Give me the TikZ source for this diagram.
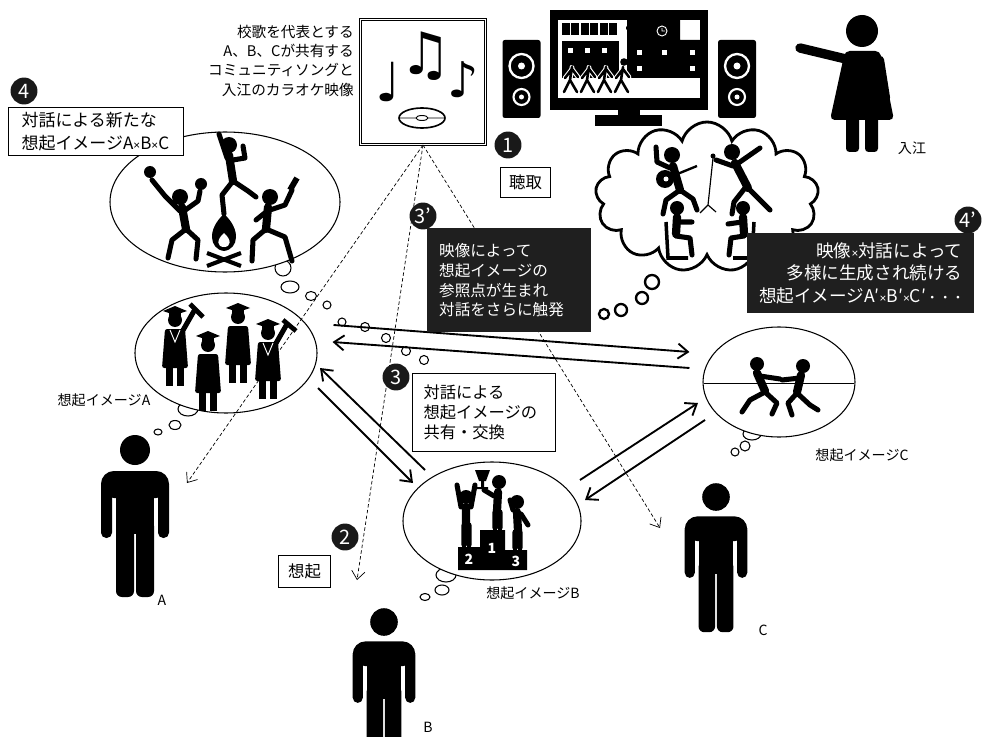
\documentclass[tikz,border=0pt]{standalone}
\usepackage{fontspec}
\setmainfont{Noto Sans CJK JP}
\newfontfamily\notefont{DejaVu Sans}
\newfontfamily\latinfont{Liberation Sans}
\newcommand\tms{{\latinfont\fontsize{10}{10}\selectfont ×}}
\newcommand\trail{{\fontsize{11}{11}\selectfont ・・・}}
\usetikzlibrary{arrows.meta,shapes.geometric,shapes.symbols}

\begin{document}
\begin{tikzpicture}[
  x=0.03cm, y=-0.03cm,
  bubble/.style={draw,ellipse,line width=0.9pt,inner sep=0pt,fill=white},
  puff/.style={draw,line width=0.9pt,fill=white},
  num/.style={circle,fill=black!90,text=white,inner sep=0pt,minimum size=23pt,
    font=\fontsize{17}{17}\selectfont},
  note/.style={draw,line width=0.9pt,fill=white,anchor=north west,inner sep=0pt,align=left},
  darknote/.style={fill=black!88,text=white,anchor=north west,inner sep=0pt},
  talk/.style={line width=1.6pt,-{Straight Barb[length=3mm,width=4.5mm]}},
  cue/.style={densely dashed,line width=0.6pt,-{Straight Barb[length=2.5mm,width=4mm]}},
  limb/.style={line width=4.3pt,line cap=round,line join=round},
  trunk/.style={line width=7pt,line cap=round,line join=round},
  tag/.style={font=\fontsize{12}{14}\selectfont},
  person/.pic={
    \fill (0,0) circle [radius=15];
    \fill[rounded corners=11pt] (-34,21) rectangle (34,48);
    \fill[rounded corners=4.5pt] (-34,30) rectangle (-23,88);
    \fill[rounded corners=4.5pt] (23,30) rectangle (34,88);
    \fill (-19,30) rectangle (19,84);
    \fill[rounded corners=5pt] (-19,70) rectangle (-1,147);
    \fill[rounded corners=5pt] (1,70) rectangle (19,147);
  },
  grad/.pic={
    \fill (0,0) circle [radius=7];
    \fill (-12,-9) -- (0,-14) -- (12,-9) -- (0,-5) -- cycle;
    \fill (-6,-9) rectangle (6,-4);
    \fill[rounded corners=2pt] (-10,9) -- (10,9) -- (13,48) -- (-13,48) -- cycle;
    \fill (-9,46) rectangle (-2,66);
    \fill (2,46) rectangle (9,66);
  },
  walker/.pic={
    \foreach \c/\w in {white/4pt,black/2.2pt}
      \draw[color=\c,line width=\w,line cap=round]
        (0,-6) -- (-2,7) -- (-8,19) (-2,7) -- (5,19) (0,-4) -- (-7,5) (0,-4) -- (6,4);
    \fill (1,-11) circle [radius=3.8];
  }
]
\useasboundingbox (0,0) rectangle (986,737);

% song on the screen
\node[anchor=north east,align=right,inner sep=0pt,font=\fontsize{12.5}{16.4}\selectfont]
  (caption) at (354,25) {校歌を代表とする\\A、B、Cが共有する\\コミュニティソングと\\入江のカラオケ映像};
\node[draw,double,double distance=1.6pt,line width=0.8pt,minimum width=3.75cm,minimum height=3.75cm]
  (song) at (423,82) {};
\node[font=\notefont\fontsize{50}{50}\selectfont] at (426,56) {♫};
\node[font=\notefont\fontsize{46}{46}\selectfont] at (388,82) {♩};
\node[font=\notefont\fontsize{42}{42}\selectfont] at (463,80) {♪};
\draw[line width=1.4pt] (422,118) ellipse [x radius=23, y radius=10];
\draw[line width=0.8pt] (422,118) ellipse [x radius=6, y radius=2.5]
  (400,118) -- (416,118) (428,118) -- (444,118);

% monitor and speakers
\fill (550,10) rectangle (708,110);
\fill (618,108) rectangle (640,116);
\fill (595,115) rectangle (662,126);
\fill[white] (558,20) rectangle (700,98);
\foreach \i in {0,...,5}
  \fill (562+\i*9.4,23) rectangle ++(8,12);
\fill[rounded corners=1pt] (626,26) rectangle (634,30);
\fill (562,41) rectangle (619,78);
\fill (627,20) -- (680,20) -- (680,40) -- (700,40) -- (700,78) -- (627,78) -- cycle;
\draw[white,line width=0.8pt] (662,31) circle [radius=5] (662,28) -- (662,31) -- (665,31);
\foreach \wx/\wy in {568/48,585/48,602/48,637/50,662/50,690/50,637/66,690/66}
  \fill[white] (\wx,\wy) rectangle ++(5,5);
\foreach \px in {572,589,606,623}
  \pic at (\px,73) {walker};
\foreach \sx in {521.5,737}{
  \fill[rounded corners=2pt] (\sx-19,40) rectangle (\sx+19,118);
  \draw[white,line width=2pt] (\sx,66) circle [radius=12];
  \fill[white] (\sx,66) circle [radius=3.5];
  \draw[white,line width=1.8pt] (\sx,97) circle [radius=8];
  \fill[white] (\sx,97) circle [radius=2.5];
}

% Irie pointing
\fill (862,31) circle [radius=16];
\fill[rounded corners=4pt] (845,51) -- (880,51) -- (894,120) -- (830,120) -- cycle;
\fill[rounded corners=3pt] (846,112) rectangle (859,152);
\fill[rounded corners=3pt] (865,112) rectangle (878,152);
\draw[line width=8pt,line cap=round] (850,60) -- (800,48);
\draw[line width=7pt,line cap=round] (880,60) -- (886,98);
\node[tag] (irie) at (912,148) {入江};

% cloud of the band
\draw[line width=2pt,fill=white] (652,282) circle [radius=7] (642,298) circle [radius=6]
  (621,310) circle [radius=6] (604,314) circle [radius=5];
\node[cloud,cloud puffs=13,cloud ignores aspect,draw,line width=2.4pt,fill=white,
  minimum width=6.7cm,minimum height=4.5cm] (dream) at (707,197) {};
\fill (672,155) circle [radius=8] (732,152) circle [radius=8]
  (677,208) circle [radius=7] (743,208) circle [radius=7];
\draw[trunk] (673,166) -- (680,190);
\draw[limb] (670,168) -- (657,162) -- (656,147) (680,190) -- (666,200) -- (663,214)
  (680,190) -- (693,199) -- (697,210);
\fill (665,179) circle [radius=9];
\fill[white] (666,179) circle [radius=2.5];
\draw[line width=2pt] (670,177) -- (697,166);
\draw[line width=1pt] (713,158) -- (708,205) -- (700,213) (708,205) -- (716,212);
\fill (713,156) circle [radius=2.5];
\draw[trunk] (735,163) -- (748,188);
\draw[limb] (737,164) -- (760,148) (733,166) -- (716,160)
  (748,188) -- (770,210) (745,188) -- (734,202) -- (732,214);
\draw[trunk] (677,217) -- (676,234) (743,217) -- (744,234);
\draw[limb] (678,222) -- (692,222) (676,236) -- (690,238) -- (692,255)
  (742,222) -- (728,224) (744,236) -- (731,238) -- (729,255);
\draw[line width=3pt] (666,222) -- (668,258) -- (688,258) (754,222) -- (752,258) -- (733,258);

% party bubble
\draw[puff] (283,268) circle [radius=8];
\node[bubble,minimum width=6.9cm,minimum height=4.2cm] (party) at (225,202) {};
\draw[puff] (290,287) ellipse [x radius=9, y radius=6] (311,296) ellipse [x radius=5.5, y radius=4.5]
  (327,305) circle [radius=4] (342,322) circle [radius=4] (365,327) circle [radius=4.5]
  (386,338) circle [radius=4.5] (406,351) circle [radius=4.5] (424,360) circle [radius=4.5];
\fill (180,197) circle [radius=8] (229,145) circle [radius=8] (270,197) circle [radius=8];
\draw[trunk] (182,207) -- (186,229) (229,155) -- (233,181) (268,207) -- (266,229);
\draw[limb] (180,211) -- (165,196) -- (152,180) (184,211) -- (198,201) -- (200,191)
  (186,229) -- (172,240) -- (168,258) (186,229) -- (198,240) -- (196,259)
  (227,158) -- (219,134) (233,160) -- (245,158) -- (243,146)
  (233,181) -- (222,195) -- (224,214) (233,181) -- (248,191) -- (256,197)
  (270,210) -- (285,205) -- (292,190) (266,212) -- (256,220)
  (266,229) -- (253,240) -- (252,261) (266,229) -- (285,237) -- (292,261);
\fill (150,172) circle [radius=6] (201,184) circle [radius=6];
\draw[line width=5pt] (290,190) -- (297,178);
\fill (224,214) .. controls (241,229) and (239,249) .. (224,251)
  .. controls (209,249) and (207,229) .. cycle;
\fill[white] (224,233) .. controls (232,240) and (231,247) .. (224,247)
  .. controls (217,247) and (216,240) .. cycle;
\draw[line width=3.5pt] (207,253) -- (241,266) (241,253) -- (207,266);

% graduates
\draw[puff] (188,409) ellipse [x radius=10, y radius=7];
\node[bubble,minimum width=5.46cm,minimum height=3.6cm] (bubA) at (226,353) {};
\draw[puff] (175,425) ellipse [x radius=6, y radius=4.5] (158,432) ellipse [x radius=4, y radius=3];
\foreach \gx/\gy in {175/320,208/345,238/317,268/333}
  \pic at (\gx,\gy) {grad};
\draw[limb] (182,332) -- (194,311) (275,345) -- (287,324);
\draw[line width=4pt] (190,304) -- (203,317) (283,320) -- (296,331);
\draw[white,line width=0.8pt] (170,330) -- (175,342) -- (180,330) (263,343) -- (268,355) -- (273,343);
\node[tag] (tagA) at (104,400) {想起イメージA};

% podium
\draw[puff] (446,575) ellipse [x radius=10, y radius=7];
\node[bubble,minimum width=5.34cm,minimum height=3.54cm] (bubB) at (492,521) {};
\draw[puff] (442,590) ellipse [x radius=7, y radius=5] (425,597) ellipse [x radius=5, y radius=3.5];
\fill (458,547) rectangle (480,570) (480,530) rectangle (505,570) (505,550) rectangle (527,570);
\node[text=white,font=\bfseries\fontsize{12}{12}\selectfont] at (469,559) {2};
\node[text=white,font=\bfseries\fontsize{12}{12}\selectfont] at (492,548) {1};
\node[text=white,font=\bfseries\fontsize{12}{12}\selectfont] at (516,561) {3};
\fill (466,497) circle [radius=7] (499,482) circle [radius=7] (517,502) circle [radius=7];
\draw[trunk] (466,507) -- (466,524) (498,492) -- (497,511) (517,512) -- (518,531);
\draw[limb] (461,507) -- (457,485) (471,507) -- (475,485)
  (464,525) -- (464,545) (469,525) -- (469,545)
  (495,512) -- (495,528) (500,512) -- (500,528) (494,496) -- (484,490)
  (515,532) -- (515,548) (520,532) -- (520,548) (521,514) -- (528,525) (513,510) -- (510,500);
\fill (475,470) -- (490,470) -- (486,481) -- (479,481) -- cycle;
\fill (481,480) rectangle (484,487) (477,487) rectangle (488,489);

% dancing pair
\draw[puff] (752,434) ellipse [x radius=9, y radius=6];
\node[bubble,minimum width=4.56cm,minimum height=3.3cm] (bubC) at (779,382) {};
\draw[puff] (745,446) circle [radius=5] (735,452) circle [radius=4];
\draw[line width=0.8pt] (704,383) -- (854,383);
\fill (757,364) circle [radius=7] (803,366) circle [radius=7];
\draw[trunk] (757,373) -- (765,391) (801,375) -- (797,392);
\draw[limb] (760,376) -- (780,379) (765,392) -- (750,400) -- (742,412)
  (765,392) -- (777,403) -- (772,414) (800,378) -- (782,380)
  (797,393) -- (810,405) -- (818,410) (797,393) -- (788,403) -- (792,415);
\node[tag] (tagC) at (862,455) {想起イメージC};

% people
\pic at (135,450) {person};
\pic[scale=0.92] at (716,497) {person};
\pic[scale=0.92] at (384,622) {person};
\node[tag] (nameA) at (162,600) {A};
\node[tag] (nameB) at (428,727) {B};
\node[tag] (nameC) at (763,630) {C};
\node[tag] (tagB) at (533,593) {想起イメージB};

% hearing the song
\coordinate (eyeA) at (187,483);
\coordinate (eyeB) at (357,580);
\coordinate (eyeC) at (660,528);
\draw[cue] (song.south) -- (eyeA);
\draw[cue] (song.south) -- (eyeB);
\draw[cue] (song.south) -- (eyeC);

% dialogue
\draw[talk] ([shift={(16,-28)}]bubA.east) -- ([shift={(-13,-30)}]bubC.west);
\draw[talk] ([shift={(-13,-14)}]bubC.west) -- ([shift={(15,-11)}]bubA.east);
\draw[talk] ([shift={(-67,-51)}]bubB.center) -- ([shift={(94,15)}]bubA.center);
\draw[talk] ([shift={(92,35)}]bubA.center) -- ([shift={(-79,-38)}]bubB.center);
\draw[talk] ([shift={(88,-41)}]bubB.center) -- ([shift={(-81,21)}]bubC.center);
\draw[talk] ([shift={(-74,38)}]bubC.center) -- ([shift={(93,-21)}]bubB.center);

% steps
\node[num] (n1) at (508,145) {1};
\node[num] (n2) at (345,537) {2};
\node[num] (n3) at (396,377) {3};
\node[num] (n3b) at (423,216) {3’};
\node[num] (n4) at (24,91) {4};
\node[num] (n4b) at (968,220) {4’};

\node[note,minimum width=1.5cm,minimum height=0.9cm,align=center,font=\fontsize{14}{18}\selectfont]
  (listen) at (500,167) {聴取};
\node[note,minimum width=1.56cm,minimum height=0.96cm,align=center,font=\fontsize{14}{18}\selectfont]
  (recall) at (278,555) {想起};
\node[note,minimum width=4.29cm,minimum height=2.34cm,text width=3.63cm,font=\fontsize{13.9}{17}\selectfont]
  (share) at (412,373) {対話による\\想起イメージの\\共有・交換};
\node[note,minimum width=5.25cm,minimum height=1.44cm,text width=4.47cm,font=\fontsize{14.5}{20}\selectfont]
  (newimg) at (8,107) {対話による新たな\\想起イメージA\tms B\tms C};
\node[darknote,minimum width=4.92cm,minimum height=3.12cm,text width=4.2cm,align=left,
  font=\fontsize{13.3}{17}\selectfont]
  (refer) at (427,228) {映像によって\\想起イメージの\\参照点が生まれ\\対話をさらに触発};
\node[darknote,minimum width=6.81cm,minimum height=2.4cm,text width=6.1cm,align=right,
  font=\fontsize{15}{19}\selectfont]
  (keep) at (747,233) {映像\tms 対話によって\\多様に生成され続ける\\想起イメージA′\tms B′\tms C′\trail};
\end{tikzpicture}
\end{document}
